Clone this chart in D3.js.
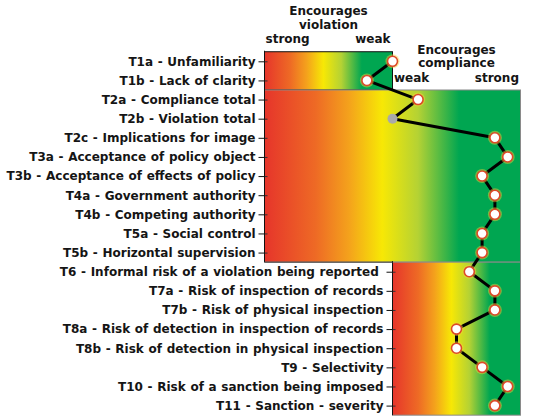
<!DOCTYPE html>
<html>
<head>
<meta charset="utf-8">
<script src="https://cdn.jsdelivr.net/npm/d3@7"></script>
<style>
  html, body { margin: 0; padding: 0; background: #fff; }
  svg { display: block; }
  text { font-family: "DejaVu Sans", Verdana, sans-serif; font-weight: bold; fill: #151515; }
  .tick text { word-spacing: 0.5px; white-space: pre; }
</style>
</head>
<body>
<svg id="chart" width="533" height="419"></svg>
<script>
// ---- data ----
const categories = [
  "T1a - Unfamiliarity",
  "T1b - Lack of clarity",
  "T2a - Compliance total",
  "T2b - Violation total",
  "T2c - Implications for image",
  "T3a - Acceptance of policy object",
  "T3b - Acceptance of effects of policy",
  "T4a - Government authority",
  "T4b - Competing authority",
  "T5a - Social control",
  "T5b - Horizontal supervision",
  "T6 - Informal risk of a violation being reported ",
  "T7a - Risk of inspection of records",
  "T7b - Risk of physical inspection",
  "T8a - Risk of detection in inspection of records",
  "T8b - Risk of detection in physical inspection",
  "T9 - Selectivity",
  "T10 - Risk of a sanction being imposed",
  "T11 - Sanction - severity"
];
// score: negative = encourages violation, positive = encourages compliance
const values = [0, -1, 1, 0, 4, 4.5, 3.5, 4, 4, 3.5, 3.5, 3, 4, 4, 2.5, 2.5, 3.5, 4.5, 4];
// which panel each category belongs to
const panelOf = [0, 0, 1, 1, 1, 1, 1, 1, 1, 1, 1, 2, 2, 2, 2, 2, 2, 2, 2];
// panels: value range covered by each panel
const panelMin = [-5, -5, 0];
const panelMax = [0, 5, 5];
// categories drawn as neutral (grey) markers
const neutralCats = ["T2b - Violation total"];
// header texts
const violationTitle = ["Encourages", "violation"];
const complianceTitle = ["Encourages", "compliance"];
const violationEnds = ["strong", "weak"];
const complianceEnds = ["weak", "strong"];

// ---- scales ----
const svg = d3.select("#chart");
const x = d3.scaleLinear().domain([-5, 5]).range([264.5, 520.5]);
const y = d3.scalePoint().domain(categories).range([61.3, 405.6]);
const step = y.step();

// gradient
const defs = svg.append("defs");
const stops = [
  [0, "#e6352b"], [0.2, "#ee6a25"], [0.33, "#f4a21c"], [0.46, "#f7e805"],
  [0.6, "#b4d234"], [0.76, "#00a651"], [1, "#00a651"]
];
const grad = defs.append("linearGradient").attr("id", "rg")
  .attr("x1", "0%").attr("x2", "100%").attr("y1", "0%").attr("y2", "0%");
grad.selectAll("stop").data(stops).join("stop")
  .attr("offset", d => d[0]).attr("stop-color", d => d[1]);

// panels
const panels = [0, 1, 2].map(p => {
  const cats = categories.filter((c, i) => panelOf[i] === p);
  return {
    p, cats,
    x0: x(panelMin[p]), x1: x(panelMax[p]),
    y0: y(cats[0]) - step / 2, y1: y(cats[cats.length - 1]) + step / 2
  };
});

const pg = svg.append("g");
pg.selectAll("rect.panel").data(panels).join("rect")
  .attr("class", "panel")
  .attr("x", d => d.x0).attr("y", d => d.y0)
  .attr("width", d => d.x1 - d.x0).attr("height", d => d.y1 - d.y0)
  .attr("fill", "url(#rg)")
  .attr("stroke", d => d.p === 0 ? "#111" : "#8a8a8a")
  .attr("stroke-width", 1);

// axes (one per panel's left side)
const axisGroups = [
  { at: x(-5), cats: categories.filter((c, i) => panelOf[i] <= 1), y0: panels[0].y0, y1: panels[1].y1 },
  { at: x(0), cats: panels[2].cats, y0: panels[2].y0, y1: panels[2].y1 }
];
axisGroups.forEach(a => {
  const g = svg.append("g").attr("transform", `translate(${a.at},0)`)
    .call(d3.axisLeft(y).tickValues(a.cats).tickSize(6).tickPadding(3));
  g.select(".domain").remove();
  g.selectAll("text").attr("font-family", null).style("font-size", "12px");
  g.selectAll(".tick line").attr("stroke", "#111");
  g.attr("font-family", null).attr("font-size", null);
  // inner tick marks
  g.selectAll(".tick").append("line").attr("x1", 0).attr("x2", 3).attr("stroke", "#333");
  svg.append("line").attr("x1", a.at).attr("x2", a.at).attr("y1", a.y0 - 1).attr("y2", a.y1)
    .attr("stroke", "#111");
});
// separation line under panel 2 (above panel 3 area)
svg.append("line").attr("x1", x(-5)).attr("x2", x(0))
  .attr("y1", panels[1].y1).attr("y2", panels[1].y1).attr("stroke", "#444");

// line
const pts = categories.map((c, i) => ({ c, v: values[i] }));
svg.append("path").datum(pts)
  .attr("d", d3.line().x(d => x(d.v)).y(d => y(d.c)))
  .attr("fill", "none").attr("stroke", "#000").attr("stroke-width", 3)
  .attr("stroke-linejoin", "round");

// markers
const normal = pts.filter(d => !neutralCats.includes(d.c));
const neutral = pts.filter(d => neutralCats.includes(d.c));
svg.append("g").selectAll("circle").data(normal).join("circle")
  .attr("cx", d => x(d.v)).attr("cy", d => y(d.c)).attr("r", 7)
  .attr("fill", "#f7d23a").attr("opacity", 0.45);
svg.append("g").selectAll("circle").data(normal).join("circle")
  .attr("cx", d => x(d.v)).attr("cy", d => y(d.c)).attr("r", 5)
  .attr("fill", "#fff").attr("stroke", "#dd4a28").attr("stroke-width", 1.6);
svg.append("g").selectAll("circle").data(neutral).join("circle")
  .attr("cx", d => x(d.v)).attr("cy", d => y(d.c)).attr("r", 5)
  .attr("fill", "#a9a9a9");

// headers
const vc = (x(-5) + x(0)) / 2, cc = (x(0) + x(5)) / 2;
svg.append("text").attr("x", vc).attr("y", 15).attr("text-anchor", "middle").style("font-size", "12px").text(violationTitle[0]);
svg.append("text").attr("x", vc).attr("y", 29).attr("text-anchor", "middle").style("font-size", "12px").text(violationTitle[1]);
svg.append("text").attr("x", x(-5) + 1).attr("y", 42.5).attr("text-anchor", "start").style("font-size", "12px").text(violationEnds[0]);
svg.append("text").attr("x", x(0) - 2).attr("y", 42.5).attr("text-anchor", "end").style("font-size", "12px").text(violationEnds[1]);
svg.append("text").attr("x", cc).attr("y", 53.5).attr("text-anchor", "middle").style("font-size", "12px").text(complianceTitle[0]);
svg.append("text").attr("x", cc).attr("y", 67).attr("text-anchor", "middle").style("font-size", "12px").text(complianceTitle[1]);
svg.append("text").attr("x", x(0) + 1.5).attr("y", 81.5).attr("text-anchor", "start").style("font-size", "12px").text(complianceEnds[0]);
svg.append("text").attr("x", x(5) - 1.5).attr("y", 81.5).attr("text-anchor", "end").style("font-size", "12px").text(complianceEnds[1]);
</script>
</body>
</html>
